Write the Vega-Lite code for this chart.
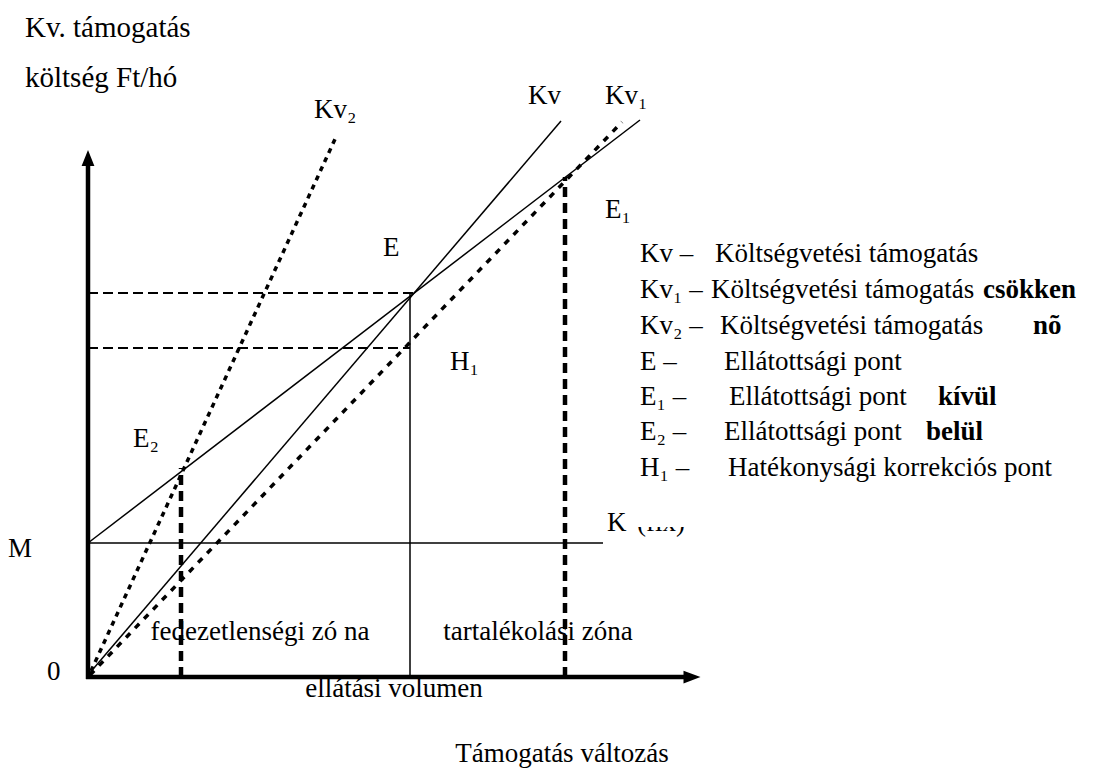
{
  "$schema": "https://vega.github.io/schema/vega-lite/v6.json",
  "width": 1112,
  "height": 776,
  "autosize": {"type": "fit", "contains": "padding"},
  "padding": 0,
  "background": "white",
  "config": {"view": {"stroke": null}, "text": {"font": "Liberation Serif", "color": "black"}},
  "datasets": {
    "titles": [
      {"label": "Kv. támogatás", "x": -63, "y": 640},
      {"label": "költség Ft/hó", "x": -63, "y": 590}
    ],
    "labels": [
      {"label": "Kv₂", "x": 226, "y": 559},
      {"label": "Kv", "x": 440, "y": 573},
      {"label": "Kv₁", "x": 517, "y": 573},
      {"label": "E", "x": 295, "y": 421},
      {"label": "E₁", "x": 517, "y": 459},
      {"label": "H₁", "x": 362, "y": 307},
      {"label": "E₂", "x": 45, "y": 230},
      {"label": "M", "x": -80, "y": 120},
      {"label": "0", "x": -41, "y": -3},
      {"label": "K", "x": 519, "y": 146},
      {"label": "(fix)", "x": 549, "y": 146}
    ],
    "zones": [
      {"label": "fedezetlenségi zó na", "x": 172, "y": 37},
      {"label": "tartalékolási zóna", "x": 450, "y": 37},
      {"label": "ellátási volumen", "x": 306, "y": -20},
      {"label": "Támogatás változás", "x": 474, "y": -85}
    ],
    "solid": [
      {"name": "K (fix)", "x": 0, "y": 134, "x2": 515, "y2": 134},
      {"name": "K", "x": 0, "y": 134, "x2": 552, "y2": 557},
      {"name": "Kv", "x": 0, "y": 2, "x2": 473, "y2": 556},
      {"name": "E volumen", "x": 322, "y": 0, "x2": 322, "y2": 383}
    ],
    "levels": [
      {"name": "E szint", "x": 0, "y": 384, "x2": 325, "y2": 384},
      {"name": "H1 szint", "x": 0, "y": 329, "x2": 322, "y2": 329}
    ],
    "drops": [
      {"name": "E2 volumen", "x": 93, "y": 0, "x2": 93, "y2": 209},
      {"name": "E1 volumen", "x": 477, "y": 0, "x2": 477, "y2": 500}
    ],
    "kv1": [{"name": "Kv1", "x": 2, "y": 2, "x2": 534, "y2": 555}],
    "kv2": [{"name": "Kv2", "x": 3, "y": 6, "x2": 248, "y2": 540}],
    "axes": [
      {"name": "y tengely", "x": 0, "y": -2, "x2": 0, "y2": 514},
      {"name": "x tengely", "x": -2, "y": 0, "x2": 597, "y2": 0}
    ],
    "arrowUp": [{"x": 0, "y": 519}],
    "arrowRight": [{"x": 604, "y": 0}],
    "box": [{"x": 545, "y": 150, "x2": 1024, "y2": 445}],
    "legendKeys": [
      {"label": "Kv –", "x": 552, "y": 415},
      {"label": "Kv₁ –", "x": 552, "y": 379},
      {"label": "Kv₂ –", "x": 552, "y": 343},
      {"label": "E  –", "x": 552, "y": 307},
      {"label": "E₁ –", "x": 552, "y": 272},
      {"label": "E₂ –", "x": 552, "y": 237},
      {"label": "H₁ –", "x": 552, "y": 201}
    ],
    "legendText": [
      {"label": "Költségvetési támogatás", "x": 627, "y": 415},
      {"label": "Költségvetési támogatás", "x": 623, "y": 379},
      {"label": "Költségvetési támogatás", "x": 632, "y": 343},
      {"label": "Ellátottsági pont", "x": 636, "y": 307},
      {"label": "Ellátottsági pont", "x": 641, "y": 272},
      {"label": "Ellátottsági pont", "x": 636, "y": 237},
      {"label": "Hatékonysági korrekciós pont", "x": 640, "y": 201}
    ],
    "legendBold": [
      {"label": "csökken", "x": 895, "y": 379},
      {"label": "nõ", "x": 945, "y": 343},
      {"label": "kívül", "x": 850, "y": 272},
      {"label": "belül", "x": 838, "y": 237}
    ]
  },
  "encoding": {
    "x": {"field": "x", "type": "quantitative", "scale": {"domain": [-88, 1024], "nice": false, "zero": false}, "axis": null},
    "y": {"field": "y", "type": "quantitative", "scale": {"domain": [-99, 677], "nice": false, "zero": false}, "axis": null}
  },
  "layer": [
    {"data": {"name": "titles"}, "mark": {"type": "text", "font": "Liberation Serif", "fontSize": 29, "align": "left", "baseline": "alphabetic"}, "encoding": {"text": {"field": "label"}}},
    {"data": {"name": "labels"}, "mark": {"type": "text", "font": "Liberation Serif", "fontSize": 27, "align": "left", "baseline": "alphabetic"}, "encoding": {"text": {"field": "label"}}},
    {"data": {"name": "zones"}, "mark": {"type": "text", "font": "Liberation Serif", "fontSize": 27, "align": "center", "baseline": "alphabetic"}, "encoding": {"text": {"field": "label"}}},
    {"data": {"name": "solid"}, "mark": {"type": "rule", "strokeWidth": 1.5, "color": "black"}, "encoding": {"x2": {"field": "x2"}, "y2": {"field": "y2"}}},
    {"data": {"name": "levels"}, "mark": {"type": "rule", "strokeWidth": 2, "strokeDash": [10, 5], "color": "black"}, "encoding": {"x2": {"field": "x2"}, "y2": {"field": "y2"}}},
    {"data": {"name": "drops"}, "mark": {"type": "rule", "strokeWidth": 4.5, "strokeDash": [10, 6], "color": "black"}, "encoding": {"x2": {"field": "x2"}, "y2": {"field": "y2"}}},
    {"data": {"name": "kv1"}, "mark": {"type": "rule", "strokeWidth": 3.5, "strokeDash": [6, 7], "color": "black"}, "encoding": {"x2": {"field": "x2"}, "y2": {"field": "y2"}}},
    {"data": {"name": "kv2"}, "mark": {"type": "rule", "strokeWidth": 3.5, "strokeDash": [5, 5], "color": "black"}, "encoding": {"x2": {"field": "x2"}, "y2": {"field": "y2"}}},
    {"data": {"name": "axes"}, "mark": {"type": "rule", "strokeWidth": 4.5, "color": "black"}, "encoding": {"x2": {"field": "x2"}, "y2": {"field": "y2"}}},
    {"data": {"name": "arrowUp"}, "mark": {"type": "point", "shape": "M -0.8 1 L 0 -1 L 0.8 1 Z", "size": 256, "filled": true, "color": "black", "opacity": 1}},
    {"data": {"name": "arrowRight"}, "mark": {"type": "point", "shape": "M -1 -0.75 L 1 0 L -1 0.75 Z", "size": 289, "filled": true, "color": "black", "opacity": 1}},
    {"data": {"name": "box"}, "mark": {"type": "rect", "color": "white", "opacity": 1}, "encoding": {"x2": {"field": "x2"}, "y2": {"field": "y2"}}},
    {"data": {"name": "legendKeys"}, "mark": {"type": "text", "font": "Liberation Serif", "fontSize": 27, "align": "left", "baseline": "alphabetic"}, "encoding": {"text": {"field": "label"}}},
    {"data": {"name": "legendText"}, "mark": {"type": "text", "font": "Liberation Serif", "fontSize": 27, "align": "left", "baseline": "alphabetic"}, "encoding": {"text": {"field": "label"}}},
    {"data": {"name": "legendBold"}, "mark": {"type": "text", "font": "Liberation Serif", "fontSize": 27, "fontWeight": "bold", "align": "left", "baseline": "alphabetic"}, "encoding": {"text": {"field": "label"}}}
  ]
}
